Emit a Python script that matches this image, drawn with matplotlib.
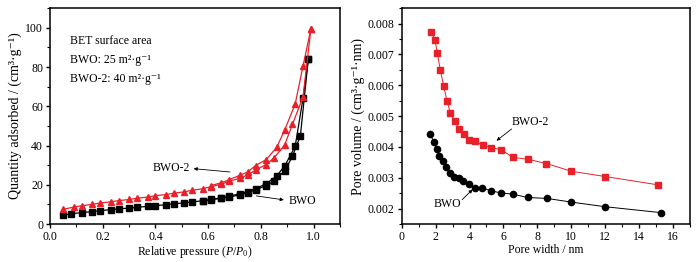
import matplotlib
matplotlib.use("Agg")
import matplotlib.pyplot as plt
from matplotlib.ticker import MultipleLocator

plt.rcParams['font.family'] = ['Liberation Serif', 'DejaVu Serif']
plt.rcParams['mathtext.fontset'] = 'custom'
plt.rcParams['mathtext.rm'] = 'Liberation Serif'
plt.rcParams['mathtext.it'] = 'Liberation Serif:italic'
plt.rcParams['font.size'] = 8.5

RED = '#e8202a'

# --- isotherms (relative pressure vs quantity adsorbed) ---
p_ads = [0.05, 0.08, 0.12, 0.16, 0.19, 0.23, 0.26, 0.30, 0.33, 0.37, 0.40, 0.44, 0.47,
         0.51, 0.54, 0.58, 0.61, 0.65, 0.68, 0.72, 0.75, 0.78, 0.82, 0.85, 0.89, 0.92,
         0.95, 0.98]
bwo_ads = [4.5, 5.2, 5.8, 6.3, 6.8, 7.3, 7.7, 8.1, 8.5, 9.0, 9.4, 9.8, 10.3, 10.8,
           11.3, 11.8, 12.4, 13.1, 13.8, 14.8, 16.0, 17.5, 19.5, 22.0, 27.0, 34.5,
           45.0, 84.0]
p_des = [0.98, 0.96, 0.93, 0.89, 0.86, 0.82, 0.78, 0.75, 0.72, 0.68, 0.65, 0.61, 0.58]
bwo_des = [84.0, 64.0, 39.5, 29.5, 24.5, 20.5, 18.0, 16.4, 15.4, 14.2, 13.3, 12.5, 11.9]

p2_ads = [0.05, 0.09, 0.12, 0.16, 0.19, 0.23, 0.26, 0.30, 0.33, 0.37, 0.40, 0.44, 0.47,
          0.51, 0.54, 0.58, 0.61, 0.65, 0.68, 0.72, 0.75, 0.78, 0.82, 0.85, 0.89, 0.92,
          0.96, 0.99]
bwo2_ads = [7.5, 8.6, 9.3, 10.0, 10.7, 11.3, 11.9, 12.5, 13.1, 13.7, 14.4, 15.0, 15.7,
            16.4, 17.2, 18.0, 19.0, 20.3, 21.8, 23.3, 25.0, 27.5, 30.3, 33.7, 40.2,
            50.8, 64.8, 99.5]
p2_des = [0.99, 0.96, 0.93, 0.89, 0.86, 0.82, 0.78, 0.75, 0.72, 0.68, 0.65, 0.61]
bwo2_des = [99.5, 80.5, 61.0, 47.8, 39.0, 32.8, 29.8, 26.5, 24.8, 22.6, 21.0, 19.6]

# --- pore size distribution ---
w_bwo2 = [1.73, 1.96, 2.10, 2.28, 2.47, 2.67, 2.87, 3.12, 3.38, 3.67, 3.98, 4.34, 4.77,
          5.28, 5.87, 6.56, 7.44, 8.54, 10.01, 11.99, 15.12]
v_bwo2 = [0.00773, 0.00748, 0.00705, 0.00648, 0.00599, 0.00550, 0.00510, 0.00483,
          0.00459, 0.00443, 0.00421, 0.00419, 0.00406, 0.00397, 0.00391, 0.00366,
          0.00360, 0.00346, 0.00321, 0.00304, 0.00277]
w_bwo = [1.69, 1.88, 2.06, 2.22, 2.41, 2.63, 2.85, 3.10, 3.36, 3.63, 3.95, 4.32, 4.75,
         5.24, 5.83, 6.54, 7.42, 8.56, 10.01, 12.01, 15.27]
v_bwo = [0.00443, 0.00416, 0.00393, 0.00369, 0.00353, 0.00336, 0.00316, 0.00301,
         0.00298, 0.00290, 0.00280, 0.00266, 0.00267, 0.00258, 0.00251, 0.00247,
         0.00236, 0.00233, 0.00221, 0.00206, 0.00187]

fig = plt.figure(figsize=(6.97, 2.62), dpi=100)
ax1 = fig.add_axes([0.0717, 0.145, 0.416, 0.824])
ax2 = fig.add_axes([0.5763, 0.145, 0.4136, 0.824])

# left panel
ax1.plot(p_ads, bwo_ads, '-s', color='black', ms=4, lw=0.9)
ax1.plot(p_des, bwo_des, '-s', color='black', ms=4, lw=0.9)
ax1.plot(p2_ads, bwo2_ads, '-^', color=RED, ms=4.8, lw=0.9)
ax1.plot(p2_des, bwo2_des, '-^', color=RED, ms=4.8, lw=0.9)
ax1.set_xlim(0, 1.1)
ax1.set_ylim(0, 110)
ax1.xaxis.set_minor_locator(MultipleLocator(0.1))
ax1.yaxis.set_major_locator(MultipleLocator(20))
ax1.yaxis.set_minor_locator(MultipleLocator(10))
ax1.set_xticks([0, 0.2, 0.4, 0.6, 0.8, 1.0])
ax1.set_xticklabels(['0.0', '0.2', '0.4', '0.6', '0.8', '1.0'])
ax1.set_xlabel(r'Relative pressure ($P$/$P_0$)', labelpad=1)
ax1.set_ylabel('Quantity adsorbed / (cm³·g⁻¹)', fontsize=10, labelpad=2)

ax1.text(0.076, 93.5, 'BET surface area', va='center')
ax1.text(0.076, 83.6, 'BWO: 25 m²·g⁻¹', va='center')
ax1.text(0.076, 73.8, 'BWO-2: 40 m²·g⁻¹', va='center')

arrow = dict(arrowstyle='-|>', color='black', lw=0.6, mutation_scale=5, shrinkA=0, shrinkB=0)
ax1.text(0.459, 28.7, 'BWO-2', ha='center', va='center')
ax1.annotate('', xy=(0.545, 28.2), xytext=(0.683, 26.5), arrowprops=arrow)
ax1.text(0.957, 11.8, 'BWO', ha='center', va='center')
ax1.annotate('', xy=(0.887, 12.3), xytext=(0.783, 14.3), arrowprops=arrow)

# right panel
ax2.plot(w_bwo2, v_bwo2, '-s', color=RED, ms=4, lw=0.7)
ax2.plot(w_bwo, v_bwo, '-o', color='black', ms=4.5, lw=0.7)
ax2.set_xlim(0, 17)
ax2.set_ylim(0.0015, 0.0085)
ax2.xaxis.set_major_locator(MultipleLocator(2))
ax2.xaxis.set_minor_locator(MultipleLocator(1))
ax2.yaxis.set_minor_locator(MultipleLocator(0.0005))
ax2.set_yticks([0.002, 0.003, 0.004, 0.005, 0.006, 0.007, 0.008])
ax2.set_yticklabels(['0.002', '0.003', '0.004', '0.005', '0.006', '0.007', '0.008'])
ax2.set_xlabel('Pore width / nm', labelpad=1)
ax2.set_ylabel('Pore volume / (cm³·g⁻¹·nm)', fontsize=10, labelpad=2)

ax2.text(7.6, 0.0048, 'BWO-2', ha='center', va='center')
ax2.annotate('', xy=(5.59, 0.00420), xytext=(6.48, 0.00458), arrowprops=arrow)
ax2.text(2.67, 0.00216, 'BWO', ha='center', va='center')
ax2.annotate('', xy=(4.18, 0.00262), xytext=(3.57, 0.00229), arrowprops=arrow)

for ax in (ax1, ax2):
    for s in ax.spines.values():
        s.set_linewidth(1.1)
    ax.tick_params(which='major', direction='out', length=3, width=1, pad=2)
    ax.tick_params(which='minor', direction='out', length=2, width=0.8)

fig.savefig('out.png', dpi=100)
